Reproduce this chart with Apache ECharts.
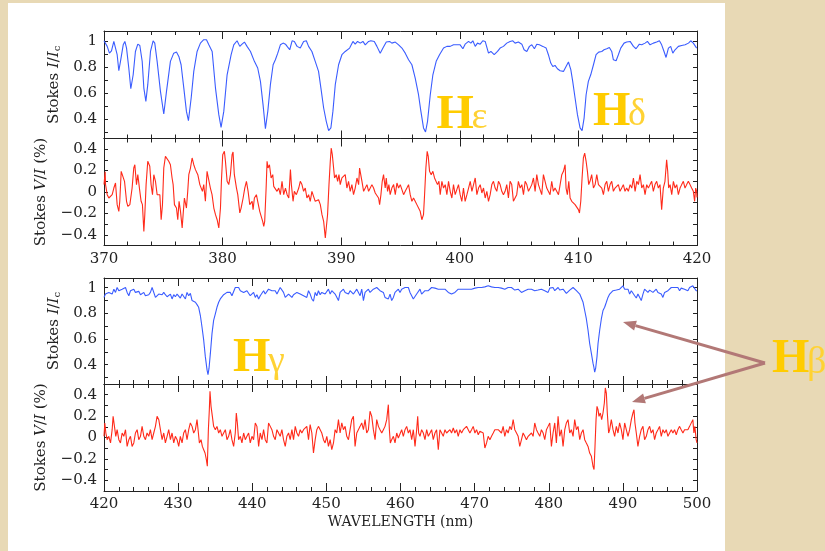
<!DOCTYPE html>
<html><head><meta charset="utf-8">
<script src="https://cdn.jsdelivr.net/npm/echarts@6/dist/echarts.min.js"></script>
<style>
html,body{margin:0;padding:0;background:#e8d9b5;width:825px;height:551px;overflow:hidden}
#panel{position:absolute;left:8px;top:3px;width:717px;height:548px;background:#fff}
#c{position:absolute;left:0;top:0;width:825px;height:551px}
</style></head><body><div id="panel"></div><div id="c"></div>
<script>
// ---------- tick / label values ----------
const xTicksTop = [370, 380, 390, 400, 410, 420];
const xTicksBottom = [420, 430, 440, 450, 460, 470, 480, 490, 500];
const yLabelsI = [0.4, 0.6, 0.8, 1];
const yTicksI = [0.3, 0.4, 0.5, 0.6, 0.7, 0.8, 0.9, 1.0];
const yLabelsV = [-0.4, -0.2, 0, 0.2, 0.4];
const yTicksV = [-0.4, -0.3, -0.2, -0.1, 0, 0.1, 0.2, 0.3, 0.4];
const rangeI = [0.25, 1.075];
const rangeV = [-0.5, 0.5];
const lineNames = [['H','ε'], ['H','δ'], ['H','γ'], ['H','β']];

// ---------- top block, Stokes I (370-420 nm) ----------
const wlTopI = [370.00,370.27,370.46,370.63,370.83,370.97,371.11,371.25,371.39,371.62,371.76,371.90,372.09,372.26,372.46,372.65,372.85,373.02,373.22,373.36,373.53,373.69,373.92,374.14,374.28,374.48,374.76,375.04,375.27,375.60,375.88,376.11,376.31,376.50,376.73,376.95,377.12,377.35,377.57,377.85,378.13,378.41,378.64,378.84,379.12,379.40,379.68,379.87,380.10,380.38,380.72,380.94,381.22,381.45,381.64,381.84,382.06,382.35,382.68,382.96,383.19,383.41,383.61,383.81,384.03,384.26,384.45,384.65,384.87,385.10,385.30,385.44,385.66,385.86,386.05,386.28,
386.55,386.83,387.06,387.25,387.53,387.81,388.09,388.29,388.52,388.74,388.94,389.13,389.30,389.50,389.78,390.06,390.34,390.71,390.99,391.18,391.38,391.61,391.83,392.03,392.31,392.50,392.79,393.01,393.29,393.52,393.80,394.08,394.27,394.56,394.84,395.12,395.40,395.68,395.96,396.24,396.52,396.72,396.94,397.11,397.28,397.51,397.73,398.01,398.29,398.63,398.91,399.19,399.47,399.75,400.03,400.26,400.45,400.74,400.93,401.10,401.30,401.49,401.72,401.94,402.14,402.42,402.62,402.90,403.18,
403.40,403.68,403.96,404.24,404.47,404.66,404.94,405.23,405.42,405.65,405.87,406.07,406.29,406.49,406.71,407.00,407.28,407.47,407.67,407.84,408.03,408.23,408.46,408.74,408.96,409.16,409.36,409.52,409.72,409.92,410.14,410.31,410.48,410.65,410.84,411.04,411.27,411.49,411.71,411.97,412.16,412.39,412.61,412.81,412.95,413.18,413.37,413.57,413.85,414.07,414.36,414.64,414.86,415.14,415.34,415.62,415.82,416.04,416.32,416.60,416.83,417.02,417.22,417.39,417.59,417.78,417.96,418.15,418.43,418.71,419.00,419.28,419.47,419.69,419.97,420.00];
const stokesITop = [1.00,0.957,0.905,0.923,0.995,0.982,0.893,0.770,0.842,0.969,0.995,0.944,0.791,0.632,0.739,0.918,0.974,0.964,0.842,0.637,0.535,0.663,0.918,1.0,0.982,0.842,0.612,0.438,0.612,0.842,0.905,0.913,0.880,0.816,0.637,0.458,0.387,0.561,0.765,0.918,0.982,1.008,1.008,0.969,0.918,0.637,0.433,0.336,0.458,0.739,0.893,0.969,1.0,0.957,0.974,0.990,0.957,0.918,0.842,0.791,0.688,0.510,0.326,0.458,0.663,0.816,0.854,0.905,0.969,0.982,0.974,0.957,0.931,1.0,0.995,0.957,
0.944,0.995,1.0,0.957,0.918,0.842,0.765,0.637,0.484,0.382,0.310,0.331,0.458,0.663,0.816,0.893,0.918,0.944,0.995,0.974,0.995,0.982,0.995,0.969,0.995,1.0,0.995,0.957,0.905,0.944,0.990,0.995,0.982,0.990,0.969,0.944,0.905,0.854,0.816,0.714,0.586,0.458,0.331,0.300,0.382,0.586,0.739,0.842,0.893,0.944,0.957,0.957,0.969,0.969,0.969,0.939,0.974,0.995,0.982,1.0,0.957,0.982,0.974,1.0,0.995,0.905,0.918,0.893,0.918,
0.944,0.957,0.982,0.995,1.0,0.982,0.990,0.974,0.931,0.918,0.957,0.969,0.939,0.974,0.969,0.957,0.944,0.893,0.829,0.803,0.811,0.785,0.770,0.765,0.803,0.837,0.778,0.688,0.561,0.433,0.331,0.310,0.407,0.586,0.688,0.739,0.816,0.893,0.913,0.918,0.931,0.939,0.949,0.918,0.854,0.847,0.893,0.944,0.982,0.990,0.995,0.957,0.939,0.974,0.969,0.982,0.995,0.969,0.982,0.990,1.0,0.969,0.918,0.872,0.944,0.957,0.905,0.931,0.957,0.964,0.969,0.982,1.0,0.982,0.944,0.944];

// ---------- top block, Stokes V (%) ----------
const wlTopV = [370.00,370.10,370.13,370.27,370.41,370.55,370.69,370.83,370.97,371.11,371.25,371.33,371.45,371.56,371.73,371.90,372.01,372.18,372.37,372.51,372.60,372.74,372.85,373.02,373.13,373.24,373.36,373.44,373.55,373.69,373.86,373.97,374.09,374.20,374.34,374.48,374.59,374.71,374.82,374.93,375.04,375.18,375.32,375.46,375.60,375.74,375.83,375.94,376.11,376.22,376.33,376.45,376.59,376.67,376.78,376.95,377.06,377.15,377.29,377.43,377.57,377.71,377.91,378.08,378.19,378.30,378.41,378.55,378.69,378.83,378.97,379.11,379.26,379.40,379.54,379.68,379.82,379.90,380.01,380.15,380.24,380.38,380.52,380.66,380.80,380.88,380.99,381.17,381.28,381.45,381.56,381.73,381.87,382.01,382.15,382.29,382.49,382.57,382.68,382.85,382.96,383.13,383.27,383.38,383.47,383.55,383.67,383.75,383.83,383.95,384.09,384.23,384.31,384.45,384.59,384.73,384.87,385.01,385.15,385.30,385.44,385.58,385.72,385.80,385.94,386.05,386.22,386.42,
386.55,386.69,386.83,386.97,387.11,387.25,387.39,387.53,387.67,387.81,387.95,388.09,388.24,388.38,388.52,388.66,388.74,388.85,388.97,389.08,389.16,389.25,389.36,389.44,389.58,389.70,389.81,389.92,390.06,390.20,390.34,390.48,390.62,390.76,390.90,391.04,391.18,391.33,391.47,391.55,391.66,391.75,391.89,392.03,392.17,392.31,392.45,392.59,392.73,392.87,393.01,393.15,393.24,393.35,393.46,393.57,393.71,393.80,393.91,394.02,394.13,394.27,394.42,394.56,394.70,394.84,394.98,395.12,395.26,395.40,395.54,395.68,395.82,395.96,396.10,396.24,396.38,396.52,396.66,396.80,396.94,397.03,397.14,397.25,397.34,397.45,397.59,397.73,397.87,398.01,398.12,398.24,398.35,398.49,398.63,398.77,398.91,399.05,399.19,399.33,399.47,399.61,399.75,399.89,400.03,400.17,400.31,400.45,400.60,400.74,400.88,401.02,401.16,401.30,401.44,401.58,401.72,401.86,402.00,402.14,402.28,402.42,402.56,402.70,402.84,402.98,403.12,403.26,403.40,403.54,403.68,
403.82,403.96,404.10,404.24,404.38,404.52,404.66,404.80,404.94,405.09,405.23,405.37,405.51,405.65,405.79,405.93,406.07,406.21,406.35,406.49,406.63,406.77,406.91,407.05,407.19,407.33,407.47,407.61,407.75,407.89,408.03,408.18,408.32,408.46,408.60,408.74,408.88,408.96,409.07,409.19,409.30,409.44,409.58,409.72,409.86,410.00,410.09,410.20,410.31,410.42,410.53,410.65,410.76,410.87,410.98,411.12,411.27,411.41,411.55,411.69,411.83,411.97,412.11,412.25,412.39,412.53,412.67,412.81,412.95,413.09,413.23,413.37,413.51,413.65,413.79,413.93,414.07,414.21,414.36,414.50,414.64,414.78,414.92,415.06,415.20,415.34,415.48,415.62,415.76,415.90,416.04,416.18,416.32,416.46,416.60,416.74,416.88,417.02,417.16,417.30,417.44,417.53,417.61,417.73,417.87,418.01,418.15,418.29,418.43,418.57,418.71,418.85,418.99,419.13,419.27,419.41,419.55,419.69,419.80,419.89,419.97,420.00];
const stokesVTop = [0.069,0.19,0.069,-0.025,-0.056,-0.072,-0.025,0.037,0.084,-0.118,-0.181,-0.087,0.193,0.209,0.100,-0.087,-0.134,-0.118,0.037,0.224,0.255,0.069,0.162,0.006,-0.087,-0.118,-0.368,-0.212,0.069,0.287,0.240,0.069,-0.025,0.162,0.100,-0.025,-0.040,-0.025,-0.259,-0.118,0.224,0.333,0.333,0.287,0.255,0.131,0.069,-0.118,-0.150,-0.259,-0.087,-0.181,-0.336,-0.212,-0.056,-0.150,0.006,0.162,0.224,0.318,0.255,0.209,0.162,0.069,0.084,0.006,0.069,-0.087,0.193,0.193,0.037,-0.025,-0.150,-0.212,-0.259,-0.336,-0.150,0.100,0.349,0.380,0.287,0.100,0.069,0.162,0.349,0.374,0.162,0.037,-0.025,-0.196,-0.150,-0.056,0.037,0.100,0.006,-0.118,-0.087,-0.165,-0.056,-0.025,-0.087,-0.181,-0.196,-0.274,-0.321,-0.274,0.037,0.287,0.224,0.255,0.131,0.162,0.053,0.069,0.006,0.037,-0.025,0.100,-0.025,0.037,-0.025,-0.056,0.209,0.069,-0.087,0.006,-0.025,0.037,
0.100,0.069,0.006,0.037,-0.056,-0.025,-0.087,0.006,0.022,-0.087,-0.087,-0.072,-0.118,-0.212,-0.274,-0.430,-0.336,-0.212,0.069,0.287,0.411,0.349,0.224,0.131,0.162,0.100,0.162,0.069,0.131,0.131,0.162,0.037,0.100,0.006,0.069,-0.025,0.037,0.131,0.069,0.224,0.240,0.100,0.006,0.037,0.069,0.006,0.037,0.069,0.037,-0.009,0.006,-0.056,-0.118,-0.025,0.100,0.162,0.037,0.131,0.006,0.069,-0.025,0.037,0.069,-0.025,0.084,0.037,0.069,0.053,-0.025,0.006,0.037,0.069,-0.025,-0.087,-0.056,-0.087,-0.118,-0.118,-0.181,-0.259,-0.212,-0.025,0.224,0.380,0.333,0.193,0.162,0.193,0.131,0.131,0.069,0.100,-0.025,0.100,0.037,0.069,-0.025,0.100,0.006,-0.056,0.069,-0.025,0.022,0.069,-0.025,-0.087,0.037,-0.087,-0.025,0.037,0.100,0.006,0.069,0.131,-0.025,0.037,0.069,-0.009,0.037,-0.056,0.006,-0.087,-0.025,0.069,0.100,0.037,0.006,0.100,0.069,0.006,-0.025,
0.006,0.069,-0.056,0.100,0.069,-0.087,-0.056,-0.025,0.100,0.037,0.069,-0.025,0.100,0.069,0.006,0.037,0.069,0.131,0.006,0.162,0.069,0.069,-0.025,0.162,0.100,0.037,0.037,-0.025,0.100,0.006,0.037,0.037,-0.025,0.069,0.162,0.193,0.255,0.037,-0.025,0.100,-0.056,-0.087,-0.087,-0.118,-0.134,-0.165,-0.196,-0.087,0.131,0.318,0.364,0.287,0.193,0.069,0.100,0.162,0.037,0.069,0.162,0.069,0.069,0.037,-0.025,0.069,0.100,0.006,0.069,0.100,0.006,0.037,0.037,0.069,0.006,0.037,0.069,0.006,0.037,0.006,0.069,0.037,0.131,0.006,0.100,0.069,0.162,0.037,0.069,-0.025,0.069,0.037,0.069,0.100,0.006,0.069,0.100,0.037,0.069,-0.165,0.037,0.100,0.302,0.193,0.037,0.069,-0.025,0.100,0.037,0.069,-0.025,0.037,0.069,0.100,0.037,0.069,0.100,0.069,0.037,0.006,-0.087,0.037,0.006,-0.05];

// ---------- bottom block, Stokes I (420-500 nm) ----------
const wlBottomI = [420.00,420.20,420.43,420.65,420.88,421.10,421.33,421.55,421.77,422.00,422.22,422.45,422.67,422.90,423.12,423.35,423.57,423.79,424.02,424.24,424.47,424.69,424.92,425.14,425.37,425.59,425.81,426.04,426.26,426.49,426.71,426.94,427.16,427.39,427.61,427.84,428.06,428.28,428.51,428.73,428.96,429.18,429.41,429.63,429.86,430.08,430.30,430.53,430.75,430.98,431.20,431.43,431.65,431.88,432.10,432.33,432.55,432.77,433.00,433.22,433.45,433.67,433.90,434.03,434.17,434.35,434.57,434.79,435.02,435.24,435.47,435.69,435.92,436.14,436.37,436.59,436.81,437.04,437.26,437.49,437.71,437.94,438.16,438.39,438.61,438.84,439.06,439.28,439.51,439.73,439.96,440.18,440.41,440.63,440.86,441.08,441.31,441.53,441.75,441.98,442.20,442.43,442.65,442.88,443.10,443.33,443.55,443.77,444.00,444.22,444.45,444.67,444.90,445.12,445.35,445.57,445.80,446.02,446.24,446.47,446.69,446.92,447.14,
447.36,447.59,447.81,448.04,448.26,448.49,448.71,448.93,449.16,449.38,449.61,449.83,450.06,450.28,450.51,450.73,450.96,451.18,451.40,451.63,451.85,452.08,452.30,452.53,452.75,452.98,453.20,453.42,453.65,453.87,454.10,454.32,454.55,454.77,455.00,455.22,455.44,455.67,455.89,456.12,456.34,456.57,456.79,457.02,457.24,457.47,457.69,457.91,458.14,458.36,458.59,458.81,459.04,459.26,459.49,459.71,459.93,460.16,460.38,460.61,460.83,461.06,461.28,461.51,461.73,461.96,462.18,462.40,462.63,462.85,463.08,463.30,463.53,463.75,463.98,464.20,464.42,464.65,464.87,465.10,465.32,465.55,465.77,466.00,466.22,466.45,466.67,466.89,467.12,467.34,467.57,467.79,468.02,468.24,468.47,468.69,468.91,469.14,469.36,469.59,469.81,470.04,470.26,470.49,470.71,470.94,471.16,471.38,471.61,471.83,472.06,472.28,472.51,472.73,472.96,473.18,
473.40,473.62,473.85,474.07,474.30,474.52,474.75,474.97,475.20,475.42,475.65,475.87,476.09,476.32,476.54,476.77,476.99,477.22,477.44,477.67,477.89,478.11,478.34,478.56,478.79,479.01,479.24,479.46,479.69,479.91,480.14,480.36,480.58,480.81,481.03,481.26,481.48,481.71,481.93,482.16,482.38,482.60,482.83,483.05,483.28,483.50,483.73,483.95,484.18,484.40,484.63,484.85,485.07,485.30,485.52,485.75,485.97,486.07,486.20,486.33,486.51,486.65,486.87,487.10,487.32,487.54,487.77,487.99,488.22,488.44,488.67,488.89,489.12,489.34,489.56,489.79,490.01,490.24,490.46,490.69,490.91,491.14,491.36,491.59,491.81,492.03,492.26,492.48,492.71,492.93,493.16,493.38,493.61,493.83,494.06,494.28,494.50,494.73,494.95,495.18,495.40,495.63,495.85,496.08,496.30,496.53,496.75,496.97,497.20,497.42,497.65,497.87,498.10,498.32,498.55,498.77,499.00,499.22,499.44,499.67,499.89,500.00];
const stokesIBottom = [0.924,0.950,0.945,0.963,0.976,0.950,0.988,0.963,1.001,0.976,0.963,0.988,0.976,1.001,0.963,0.937,0.976,0.976,0.988,0.963,0.950,0.971,0.945,0.950,0.963,0.937,0.950,0.945,0.963,1.001,0.988,0.924,0.937,0.950,0.963,0.945,0.963,0.945,0.929,0.924,0.950,0.912,0.945,0.929,0.950,0.963,0.919,0.950,0.945,0.912,0.963,0.937,0.955,0.899,0.912,0.886,0.868,0.847,0.783,0.694,0.591,0.463,0.360,0.322,0.373,0.488,0.642,0.745,0.796,0.847,0.886,0.912,0.924,0.945,0.937,0.963,0.950,0.963,0.937,0.950,1.001,0.988,1.001,0.976,0.988,0.963,0.950,0.976,0.963,0.937,0.950,0.963,0.924,0.945,0.912,0.937,0.950,0.976,0.950,0.963,0.988,1.001,0.976,0.988,0.976,0.950,0.963,1.001,0.988,0.963,0.924,0.937,0.950,0.963,0.924,0.945,0.950,0.963,0.976,0.950,0.945,0.937,0.950,
0.924,0.976,0.950,0.912,0.894,0.963,0.937,0.976,0.945,0.963,0.976,0.950,0.963,0.988,0.950,0.976,0.988,0.950,0.963,0.899,0.963,0.976,0.988,0.963,0.976,0.950,0.976,0.988,0.950,0.963,0.988,0.976,0.937,0.988,0.899,0.963,0.976,0.988,0.963,0.950,0.988,0.976,1.001,0.988,0.976,0.963,0.963,0.924,0.937,0.912,0.950,0.899,0.924,0.963,0.976,0.988,0.963,0.988,0.976,1.001,0.988,1.001,0.963,0.950,0.912,0.912,0.950,0.963,0.988,0.950,0.963,0.976,0.963,0.976,0.988,1.001,1.006,0.996,1.001,0.988,1.001,0.988,0.976,0.988,0.976,0.963,0.963,0.950,0.945,0.963,0.976,0.988,0.976,0.988,0.976,0.988,0.981,0.988,0.976,0.988,1.001,0.996,0.988,1.001,0.988,1.001,0.988,1.006,1.001,1.014,1.001,1.006,0.996,1.001,0.988,1.001,
1.001,0.996,1.006,0.988,0.996,1.001,0.988,1.001,0.996,0.981,0.988,0.988,0.976,0.963,0.950,0.976,0.981,0.988,0.976,0.988,0.981,0.976,0.988,0.981,0.976,0.988,1.001,0.976,0.988,0.963,0.996,0.988,1.001,0.976,0.988,1.001,0.981,0.996,0.988,0.976,0.955,0.950,0.981,0.988,1.001,0.988,0.976,0.963,0.950,0.937,0.886,0.822,0.758,0.668,0.565,0.488,0.412,0.386,0.342,0.373,0.463,0.565,0.668,0.758,0.822,0.847,0.886,0.924,0.950,0.937,0.976,0.963,0.981,0.971,0.988,1.001,1.014,0.988,0.976,0.988,0.950,0.976,0.963,0.937,0.919,0.950,0.937,0.899,0.950,0.988,0.988,0.963,0.981,0.976,0.963,0.976,0.988,0.963,0.976,0.950,0.924,0.963,0.950,0.976,0.988,1.001,0.988,1.001,0.988,1.001,0.976,0.996,0.981,0.988,1.001,0.976,1.001,0.988,1.014,1.001,0.976,0.976];

// ---------- bottom block, Stokes V (%) ----------
const wlBottomV = [420.00,420.11,420.25,420.43,420.65,420.88,421.10,421.23,421.41,421.59,421.77,422.00,422.22,422.45,422.67,422.90,423.12,423.35,423.57,423.79,424.02,424.24,424.47,424.69,424.92,425.14,425.37,425.59,425.81,426.04,426.26,426.49,426.71,426.94,427.16,427.39,427.61,427.84,428.06,428.28,428.51,428.73,428.96,429.18,429.41,429.63,429.86,430.08,430.30,430.53,430.75,430.98,431.20,431.43,431.65,431.88,432.10,432.33,432.55,432.69,432.87,433.09,433.27,433.45,433.63,433.81,433.94,434.08,434.21,434.30,434.44,434.62,434.79,435.02,435.24,435.47,435.69,435.92,436.14,436.37,436.59,436.81,437.04,437.26,437.49,437.71,437.85,437.99,438.16,438.39,438.61,438.84,439.06,439.28,439.51,439.73,439.96,440.18,440.41,440.63,440.86,441.08,441.31,441.53,441.75,441.98,442.20,442.43,442.65,442.88,443.10,443.33,443.55,443.77,444.00,444.22,444.45,444.67,444.90,445.12,445.35,445.57,445.80,446.02,446.24,446.47,446.69,446.92,447.14,
447.36,447.59,447.81,448.04,448.26,448.49,448.71,448.93,449.16,449.38,449.61,449.83,450.06,450.28,450.51,450.73,450.96,451.18,451.40,451.63,451.85,452.08,452.30,452.53,452.75,452.98,453.20,453.42,453.65,453.87,454.10,454.32,454.55,454.77,455.00,455.22,455.44,455.67,455.89,456.12,456.34,456.57,456.79,457.02,457.24,457.47,457.69,457.91,458.14,458.36,458.50,458.63,458.81,459.04,459.26,459.49,459.71,459.93,460.16,460.38,460.61,460.83,461.06,461.28,461.51,461.73,461.96,462.18,462.32,462.45,462.63,462.85,463.08,463.30,463.53,463.75,463.98,464.20,464.42,464.65,464.87,465.10,465.32,465.55,465.77,466.00,466.22,466.45,466.67,466.89,467.12,467.34,467.57,467.79,468.02,468.24,468.47,468.69,468.91,469.14,469.36,469.59,469.81,470.04,470.26,470.49,470.71,470.94,471.16,471.38,471.61,471.83,472.06,472.28,472.51,472.73,472.96,473.18,
473.40,473.62,473.85,474.07,474.30,474.52,474.75,474.97,475.20,475.42,475.65,475.87,476.09,476.32,476.54,476.77,476.99,477.22,477.44,477.67,477.89,478.11,478.34,478.56,478.79,479.01,479.24,479.46,479.69,479.91,480.14,480.36,480.58,480.81,481.03,481.26,481.48,481.71,481.93,482.16,482.38,482.60,482.83,483.05,483.28,483.50,483.73,483.95,484.18,484.40,484.63,484.85,485.07,485.30,485.52,485.75,485.97,486.11,486.24,486.38,486.51,486.65,486.78,486.96,487.14,487.32,487.50,487.63,487.77,487.90,488.08,488.22,488.44,488.67,488.89,489.12,489.34,489.56,489.79,490.01,490.24,490.46,490.69,490.91,491.14,491.36,491.50,491.63,491.81,492.03,492.26,492.48,492.71,492.93,493.16,493.38,493.61,493.83,494.06,494.28,494.50,494.73,494.95,495.18,495.40,495.63,495.85,496.08,496.30,496.53,496.75,496.97,497.20,497.42,497.65,497.87,498.10,498.32,498.55,498.77,499.00,499.22,499.44,499.58,499.71,499.89,500.00];
const stokesVBottom = [0.011,0.136,0.042,-0.020,0.011,-0.051,0.073,0.198,0.104,0.011,0.073,-0.020,-0.051,0.042,0.011,0.073,-0.083,-0.020,0.011,-0.083,-0.051,0.042,0.073,-0.020,0.011,0.104,0.011,-0.020,0.042,0.011,0.073,-0.020,0.042,0.104,0.198,0.167,0.073,-0.020,0.042,-0.051,0.011,0.073,-0.020,0.042,-0.051,0.011,-0.020,-0.083,0.011,-0.051,0.042,0.073,-0.020,0.073,0.136,0.104,0.042,0.073,0.167,0.073,-0.051,-0.020,-0.083,-0.114,-0.145,-0.207,-0.269,0.073,0.260,0.431,0.291,0.198,0.104,0.073,0.104,0.042,0.073,0.011,0.042,0.073,-0.020,0.011,0.073,-0.020,-0.083,0.042,0.229,0.136,-0.020,0.011,-0.051,0.042,-0.020,0.011,0.042,-0.051,0.011,-0.020,0.136,0.104,-0.083,0.042,-0.020,0.073,-0.020,-0.051,0.136,0.104,0.073,0.011,-0.020,0.073,0.042,0.011,0.073,-0.020,-0.083,0.011,0.042,-0.020,0.073,-0.020,0.104,0.042,0.011,0.073,0.042,0.073,0.089,
0.104,-0.020,0.120,0.042,-0.145,-0.020,0.073,0.104,0.120,0.042,-0.020,-0.051,0.011,-0.083,-0.020,-0.114,-0.051,0.073,0.042,0.167,0.042,0.136,0.073,0.104,0.011,-0.020,0.073,0.167,0.198,-0.083,0.042,0.073,0.104,0.136,0.073,0.167,0.042,0.073,0.245,0.198,0.073,-0.020,0.167,0.104,0.073,0.042,0.073,0.104,0.167,0.307,0.073,-0.051,-0.020,0.011,-0.051,0.042,-0.005,-0.020,0.073,0.011,0.073,0.104,0.042,0.073,-0.020,0.073,-0.083,0.073,0.198,0.042,0.011,0.073,0.042,-0.020,0.073,0.011,0.042,0.073,-0.020,0.042,0.073,-0.114,0.073,0.042,0.011,0.073,0.042,0.058,0.073,0.042,0.089,0.042,0.073,0.011,0.073,0.042,0.073,0.058,0.104,0.073,0.042,0.073,0.104,0.042,0.073,0.026,0.058,0.073,0.042,-0.098,-0.051,0.011,-0.020,0.011,0.042,0.073,0.089,0.073,
0.073,0.042,0.104,0.011,0.073,0.042,0.104,0.073,0.167,0.073,0.042,0.011,-0.083,-0.020,0.042,0.011,-0.020,0.011,-0.005,0.042,0.011,0.136,0.073,0.042,0.011,0.073,0.042,-0.020,0.073,0.104,0.136,-0.083,0.042,0.136,-0.051,0.198,0.011,0.073,-0.083,0.073,0.136,0.167,0.042,0.073,0.011,0.167,0.073,0.104,-0.020,0.042,0.073,-0.020,-0.051,-0.083,-0.145,-0.176,-0.269,-0.300,-0.083,0.167,0.291,0.260,0.198,0.229,0.167,0.229,0.322,0.463,0.416,0.229,0.042,0.073,0.167,0.073,0.011,0.104,0.042,0.136,0.073,-0.020,0.136,0.073,0.011,0.073,0.167,0.229,0.260,0.136,0.042,-0.083,0.011,0.073,0.104,-0.020,0.011,0.073,0.104,0.042,0.073,-0.020,0.042,0.073,0.104,0.011,0.073,0.042,0.073,0.011,0.042,0.073,0.042,0.073,0.026,0.073,0.104,0.073,0.042,0.073,0.089,0.073,0.104,0.120,0.167,0.042,0.104,-0.020,-0.05];

// ---------- chart ----------
const SERIF = '"DejaVu Serif", "Liberation Serif", serif';
const INK = '#222';
const BLUE = '#3a5cff';
const RED = '#ff2a1a';

function zip(a, b) { const n = Math.min(a.length, b.length); const out = []; for (let i = 0; i < n; i++) out.push([a[i], b[i]]); return out; }
function fmtY(v) { return String(Math.round(v * 10) / 10).replace('-', '\u2212'); }

const gridBoxes = [
  { left: 104, top: 31, width: 593, height: 107.5 },
  { left: 104, top: 138.5, width: 593, height: 107 },
  { left: 104, top: 278, width: 593, height: 106 },
  { left: 104, top: 384, width: 593, height: 107 }
];
const xr = [[xTicksTop[0], xTicksTop[xTicksTop.length - 1]], [xTicksTop[0], xTicksTop[xTicksTop.length - 1]],
            [xTicksBottom[0], xTicksBottom[xTicksBottom.length - 1]], [xTicksBottom[0], xTicksBottom[xTicksBottom.length - 1]]];

function xAx(g, pos, showLab, name) {
  const a = {
    gridIndex: g, type: 'value', position: pos, min: xr[g][0], max: xr[g][1], interval: 10,
    axisLine: { show: true, onZero: false, lineStyle: { color: INK, width: 1 } },
    axisTick: { show: true, inside: true, length: 8, lineStyle: { color: INK, width: 1 } },
    minorTick: { show: true, splitNumber: 5, length: 4, lineStyle: { color: INK, width: 1 } },
    splitLine: { show: false }, minorSplitLine: { show: false },
    axisLabel: { show: showLab, margin: 6, color: INK, fontFamily: SERIF, fontSize: 15, showMinLabel: true, showMaxLabel: true, formatter: v => String(v) }
  };
  if (name) { a.name = name; a.nameLocation = 'middle'; a.nameGap = 24; a.nameTextStyle = { fontFamily: SERIF, fontSize: 14, color: INK }; }
  return a;
}
const richBase = { fontFamily: SERIF, fontSize: 15, color: INK };
function yAx(g, pos, isI, showLab) {
  const a = {
    gridIndex: g, type: 'value', position: pos,
    min: isI ? rangeI[0] : rangeV[0], max: isI ? rangeI[1] : rangeV[1],
    axisLine: { show: true, onZero: false, lineStyle: { color: INK, width: 1 } },
    axisTick: { show: true, inside: true, length: 4, customValues: isI ? yTicksI : yTicksV, lineStyle: { color: INK, width: 1 } },
    axisLabel: { show: showLab, customValues: isI ? yLabelsI : yLabelsV, formatter: fmtY, margin: 7, color: INK, fontFamily: SERIF, fontSize: 15 },
    splitLine: { show: false }
  };
  if (showLab) {
    a.name = isI ? '{t|Stokes }{i|I}{t|/}{i|I}{s|c}' : '{t|Stokes }{i|V}{t|/}{i|I}{t| (%)}';
    a.nameLocation = 'middle';
    a.nameGap = isI ? 40 : 55;
    a.nameTextStyle = { rich: {
      t: richBase,
      i: Object.assign({}, richBase, { fontStyle: 'italic' }),
      s: Object.assign({}, richBase, { fontSize: 10, verticalAlign: 'bottom', padding: [6, 0, 0, 0] })
    } };
  }
  return a;
}

const xAxes = [], yAxes = [];
for (let g = 0; g < 4; g++) {
  const isV = g % 2 === 1;
  xAxes.push(xAx(g, 'bottom', isV, g === 3 ? 'WAVELENGTH (nm)' : null));
  xAxes.push(xAx(g, 'top', false, null));
  yAxes.push(yAx(g, 'left', !isV, true));
  yAxes.push(yAx(g, 'right', !isV, false));
}

const panels = [
  [wlTopI, stokesITop, BLUE], [wlTopV, stokesVTop, RED],
  [wlBottomI, stokesIBottom, BLUE], [wlBottomV, stokesVBottom, RED]
];
const series = panels.map((p, g) => ({
  type: 'line', xAxisIndex: 2 * g, yAxisIndex: 2 * g, data: zip(p[0], p[1]),
  showSymbol: false, symbol: 'none', silent: true, animation: false,
  lineStyle: { color: p[2], width: 1.1 }, z: 3
}));

// annotation labels (Balmer lines) and arrows
const GOLD = '#ffcc00', GOLD2 = '#ffd233', ARROW = '#b27876';
const labelPos = [[436.5, 115.5], [593, 112.3], [233, 359], [772, 360]];
const graphics = [];
lineNames.forEach((nm, i) => {
  const [x, y] = labelPos[i];
  graphics.push({ type: 'text', x: x, y: y, z: 50, silent: true,
    style: { text: nm[0], fontFamily: '"Liberation Serif", serif', fontWeight: 'bold', fontSize: 48, fill: GOLD, align: 'left', verticalAlign: 'middle' } });
  graphics.push({ type: 'text', x: x + 35, y: y + 3, z: 50, silent: true,
    style: { text: nm[1], fontFamily: '"Liberation Serif", serif', fontSize: 38, fill: GOLD2, align: 'left', verticalAlign: 'middle' } });
});
function arrow(x1, y1, x2, y2) {
  const dx = x2 - x1, dy = y2 - y1, L = Math.hypot(dx, dy), ux = dx / L, uy = dy / L;
  const hl = 13, hw = 5, bx = x2 - ux * hl, by = y2 - uy * hl;
  graphics.push({ type: 'line', z: 50, silent: true, shape: { x1: x1, y1: y1, x2: bx, y2: by }, style: { stroke: ARROW, lineWidth: 3 } });
  graphics.push({ type: 'polygon', z: 50, silent: true, shape: { points: [[x2, y2], [bx - uy * hw, by + ux * hw], [bx + uy * hw, by - ux * hw]] }, style: { fill: ARROW } });
}
arrow(765, 363, 623, 322);
arrow(765, 363, 632, 402);

const chart = echarts.init(document.getElementById('c'), null, { renderer: 'canvas' });
chart.setOption({
  backgroundColor: 'transparent',
  animation: false,
  grid: gridBoxes.map(b => Object.assign({ containLabel: false, outerBoundsMode: 'none' }, b)),
  xAxis: xAxes,
  yAxis: yAxes,
  series: series,
  graphic: graphics
});
</script></body></html>
